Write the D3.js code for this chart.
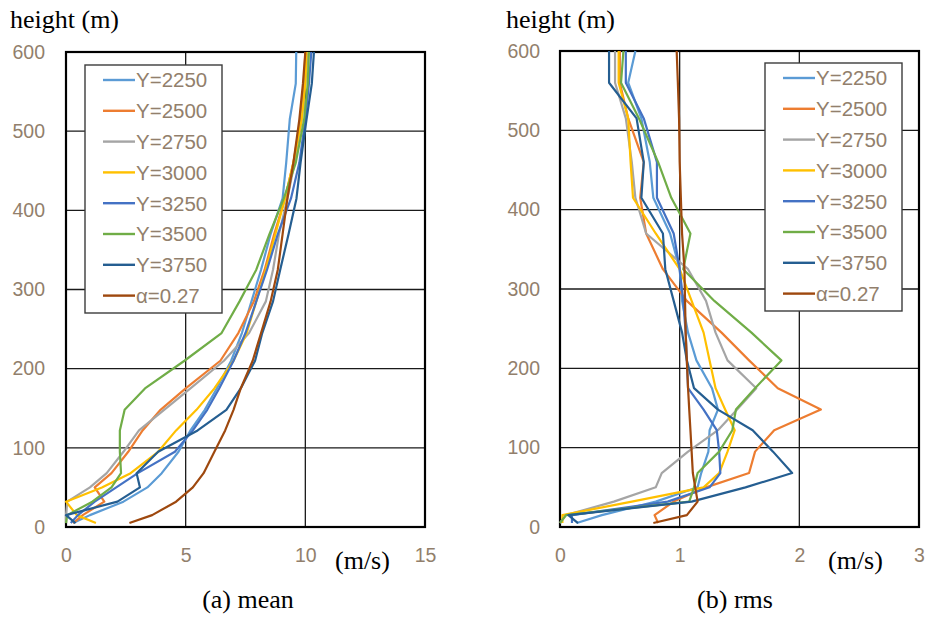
<!DOCTYPE html>
<html>
<head>
<meta charset="utf-8">
<script src="https://cdn.jsdelivr.net/npm/d3@7"></script>
<style>
  body { margin: 0; background: #fff; }
  svg { display: block; }
</style>
</head>
<body>
<div id="chart"></div>
<script>
// heights (m) where the profiles are sampled
const heights = [5, 15, 32, 50, 68, 95, 122, 148, 175, 210, 245, 285, 325, 370, 415, 460, 515, 560, 600]

const seriesNames = ["Y=2250", "Y=2500", "Y=2750", "Y=3000", "Y=3250", "Y=3500", "Y=3750", "\u03b1=0.27"]
const seriesColors = ["#5b9bd5", "#ed7d31", "#a5a5a5", "#ffc000", "#4472c4", "#70ad47", "#255e91", "#9e480e"]

// (a) mean wind speed (m/s)
const mean2250 = [0.3, 1.0, 2.4, 3.4, 4.0, 4.7, 5.2, 5.8, 6.3, 6.9, 7.35, 7.75, 8.15, 8.55, 9.05, 9.2, 9.35, 9.6, 9.62]
const mean2500 = [0.3, 0.7, 1.6, 1.2, 1.9, 2.6, 3.2, 3.95, 5.0, 6.45, 7.2, 7.85, 8.3, 8.7, 9.15, 9.5, 9.8, 9.95, 10.0]
const mean2750 = [0.0, 0.0, 0.05, 1.0, 1.7, 2.4, 3.05, 4.1, 5.2, 6.6, 7.65, 8.35, 8.65, 8.9, 9.25, 9.55, 9.85, 10.0, 10.1]
const mean3000 = [1.25, 0.45, 0.0, 1.5, 2.7, 3.85, 4.6, 5.45, 6.2, 7.0, 7.55, 7.95, 8.35, 8.75, 9.15, 9.5, 9.85, 10.0, 10.05]
const mean3250 = [0.2, 0.5, 1.2, 2.1, 3.0, 4.55, 5.3, 5.9, 6.4, 7.0, 7.5, 7.95, 8.4, 8.85, 9.4, 9.75, 10.0, 10.15, 10.25]
const mean3500 = [0.0, 0.05, 1.1, 1.9, 2.3, 2.25, 2.25, 2.45, 3.3, 4.95, 6.5, 7.25, 7.95, 8.5, 9.1, 9.6, 9.95, 10.1, 10.15]
const mean3750 = [0.4, 0.0, 2.15, 3.09, 2.95, 3.85, 5.5, 6.7, 7.3, 7.9, 8.2, 8.65, 8.95, 9.3, 9.63, 9.8, 10.05, 10.27, 10.36]
const meanAlpha = [2.65, 3.6, 4.6, 5.3, 5.75, 6.2, 6.65, 7.0, 7.3, 7.8, 8.15, 8.55, 8.85, 9.05, 9.25, 9.5, 9.75, 9.9, 10.0]

// (b) rms of wind speed (m/s)
const rms2250 = [0.14, 0.35, 0.8, 1.15, 1.18, 1.24, 1.25, 1.32, 1.27, 1.14, 1.07, 1.02, 1.0, 0.92, 0.78, 0.75, 0.68, 0.57, 0.63]
const rms2500 = [0.82, 0.79, 0.95, 1.22, 1.58, 1.63, 1.79, 2.18, 1.82, 1.58, 1.35, 1.06, 0.86, 0.72, 0.67, 0.70, 0.57, 0.5, 0.5]
const rms2750 = [0.0, 0.05, 0.45, 0.8, 0.85, 1.07, 1.32, 1.48, 1.64, 1.4, 1.3, 1.22, 1.07, 0.72, 0.63, 0.6, 0.55, 0.46, 0.46]
const rms3000 = [0.02, 0.02, 0.6, 1.2, 1.33, 1.4, 1.46, 1.38, 1.3, 1.25, 1.2, 1.1, 1.0, 0.8, 0.61, 0.59, 0.57, 0.49, 0.49]
const rms3250 = [0.1, 0.1, 0.9, 1.25, 1.34, 1.33, 1.31, 1.2, 1.07, 1.06, 1.05, 1.03, 1.0, 0.95, 0.81, 0.81, 0.70, 0.55, 0.55]
const rms3500 = [0.0, 0.05, 1.08, 1.12, 1.15, 1.33, 1.44, 1.47, 1.63, 1.85, 1.6, 1.29, 1.03, 1.09, 0.93, 0.82, 0.66, 0.51, 0.53]
const rms3750 = [0.15, 0.07, 1.1, 1.55, 1.94, 1.78, 1.61, 1.32, 1.12, 1.06, 1.02, 0.95, 0.88, 0.86, 0.68, 0.70, 0.64, 0.41, 0.41]
const rmsAlpha = [0.78, 1.06, 1.15, 1.13, 1.11, 1.10, 1.09, 1.08, 1.07, 1.06, 1.05, 1.045, 1.04, 1.02, 1.01, 1.0, 0.995, 0.985, 0.975]

const meanSeries = [mean2250, mean2500, mean2750, mean3000, mean3250, mean3500, mean3750, meanAlpha]
const rmsSeries = [rms2250, rms2500, rms2750, rms3000, rms3250, rms3500, rms3750, rmsAlpha]

const yTicks = [0, 100, 200, 300, 400, 500, 600]
const meanXTicks = [0, 5, 10, 15]
const rmsXTicks = [0, 1, 2, 3]

const width = 926, height = 617
const tickColor = "#927f6c"
const sansFont = "'Liberation Sans', Arial, sans-serif"
const serifFont = "'Liberation Serif', 'Times New Roman', serif"

const svg = d3.select("#chart").append("svg")
  .attr("width", width)
  .attr("height", height)

function drawPanel(opts) {
  const x = d3.scaleLinear().domain(opts.xDomain).range([opts.left, opts.right])
  const y = d3.scaleLinear().domain([0, 600]).range([opts.bottom, opts.top])
  const g = svg.append("g")

  // grid
  g.append("g").selectAll("line.v")
    .data(opts.xTicks.slice(1, -1))
    .join("line")
    .attr("x1", d => x(d)).attr("x2", d => x(d))
    .attr("y1", y(0)).attr("y2", y(600))
    .attr("stroke", "#1a1a1a").attr("stroke-width", 1.3)
  g.append("g").selectAll("line.h")
    .data(yTicks.slice(1, -1))
    .join("line")
    .attr("x1", x(opts.xDomain[0])).attr("x2", x(opts.xDomain[1]))
    .attr("y1", d => y(d)).attr("y2", d => y(d))
    .attr("stroke", "#1a1a1a").attr("stroke-width", 1.3)

  // frame
  g.append("rect")
    .attr("x", x(opts.xDomain[0])).attr("y", y(600))
    .attr("width", x(opts.xDomain[1]) - x(opts.xDomain[0]))
    .attr("height", y(0) - y(600))
    .attr("fill", "none").attr("stroke", "#000").attr("stroke-width", 2.2)

  // axes (labels only, the frame acts as the axis line)
  const yAxis = g.append("g")
    .attr("transform", `translate(${x(opts.xDomain[0])},0)`)
    .call(d3.axisLeft(y).tickValues(yTicks).tickSize(0).tickPadding(opts.yPad).tickFormat(d3.format("d")))
  const xAxis = g.append("g")
    .attr("transform", `translate(0,${y(0)})`)
    .call(d3.axisBottom(x).tickValues(opts.xTicks).tickSize(0).tickPadding(21).tickFormat(d3.format("d")))
  for (const ax of [xAxis, yAxis]) {
    ax.select(".domain").remove()
    ax.selectAll("text")
      .attr("fill", tickColor)
      .style("font-family", sansFont)
      .style("font-size", "19.5px")
  }

  // profiles
  const line = d3.line()
    .x(d => x(d[0]))
    .y(d => y(d[1]))
  const lines = g.append("g")
  opts.series.forEach((vals, i) => {
    lines.append("path")
      .datum(vals.map((v, k) => [v, heights[k]]))
      .attr("d", line)
      .attr("fill", "none")
      .attr("stroke", seriesColors[i])
      .attr("stroke-width", 2.2)
      .attr("stroke-linejoin", "round")
  })

  // legend
  const lg = g.append("g").attr("transform", `translate(${opts.legendX},${opts.legendY})`)
  lg.append("rect")
    .attr("width", 137).attr("height", 248)
    .attr("fill", "#fff").attr("stroke", "#3c3c3c").attr("stroke-width", 1.4)
  seriesNames.forEach((name, i) => {
    const cy = 15 + i * 30.8
    lg.append("line")
      .attr("x1", 18).attr("x2", 50)
      .attr("y1", cy).attr("y2", cy)
      .attr("stroke", seriesColors[i]).attr("stroke-width", 2.4)
    lg.append("text")
      .attr("x", 51).attr("y", cy)
      .attr("dy", "0.36em")
      .attr("fill", tickColor)
      .style("font-family", sansFont)
      .style("font-size", "20.5px")
      .text(name)
  })

  // titles
  svg.append("text")
    .attr("x", opts.titleX).attr("y", 28)
    .style("font-family", serifFont).style("font-size", "26px")
    .text("height (m)")
  svg.append("text")
    .attr("x", opts.unitX).attr("y", 569)
    .style("font-family", serifFont).style("font-size", "26px")
    .text("(m/s)")
  svg.append("text")
    .attr("x", opts.captionX).attr("y", 608)
    .attr("text-anchor", "middle")
    .style("font-family", serifFont).style("font-size", "26px")
    .text(opts.caption)
}

drawPanel({
  xDomain: [0, 15], xTicks: meanXTicks, series: meanSeries,
  left: 66, right: 425, top: 52, bottom: 527, yPad: 21,
  legendX: 85, legendY: 65,
  titleX: 10, unitX: 335, captionX: 248, caption: "(a) mean"
})

drawPanel({
  xDomain: [0, 3], xTicks: rmsXTicks, series: rmsSeries,
  left: 560, right: 919, top: 51, bottom: 527, yPad: 20,
  legendX: 765, legendY: 63,
  titleX: 506, unitX: 828, captionX: 735, caption: "(b) rms"
})
</script>
</body>
</html>
